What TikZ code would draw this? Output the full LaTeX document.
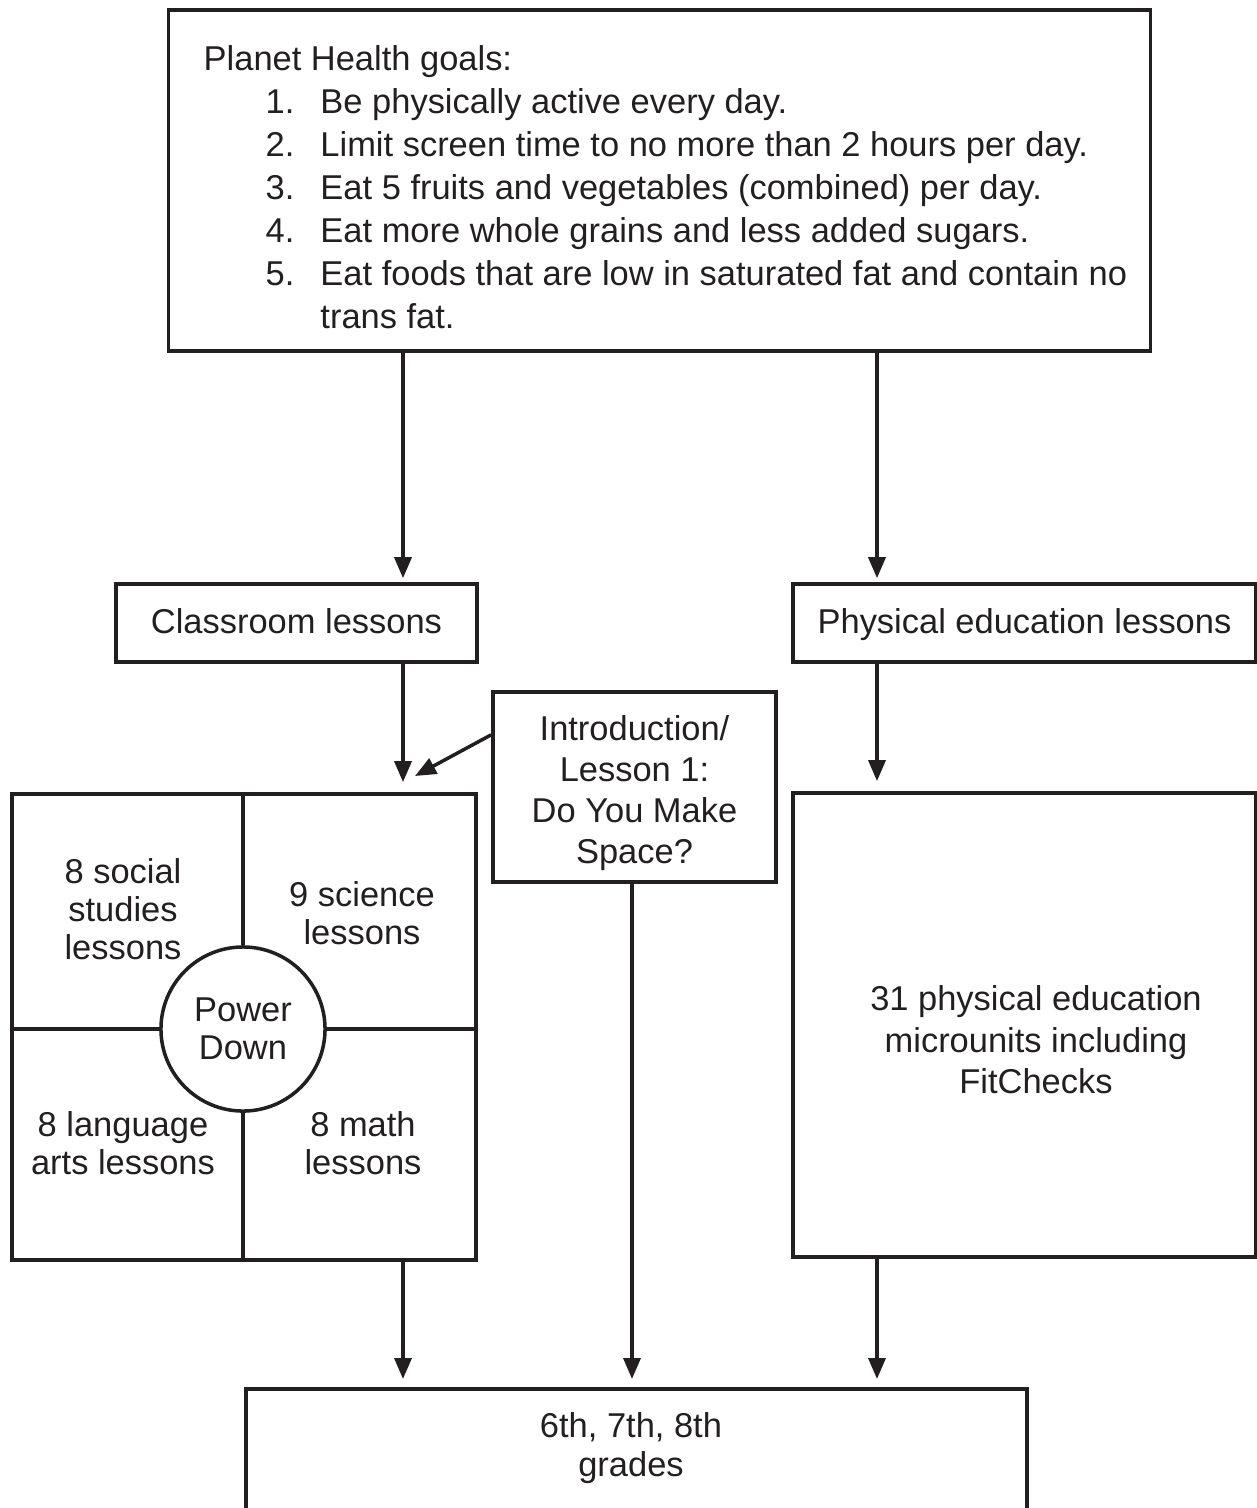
\documentclass[tikz,border=0pt]{standalone}
\usepackage{fontspec}
\setmainfont{Liberation Sans}
\usetikzlibrary{arrows.meta}

\begin{document}
\begin{tikzpicture}[x=0.01cm,y=-0.01cm, font=\fontsize{9.8}{10.9}\selectfont,
    box/.style={draw=ink, line width=1pt, inner sep=0pt},
    divider/.style={draw=ink, line width=1pt},
    arr/.style={draw=ink, line width=1pt, -{Triangle[length=0.21cm,width=0.17cm]}},
    lbl/.style={text=ink, align=center, inner sep=0pt}]
    \definecolor{ink}{RGB}{35,31,32}

    \useasboundingbox (0,0) rectangle (1257,1508);

    \node[box, minimum width=9.81cm, minimum height=3.41cm] (goals) at (659.5,180.5) {};
    \node[lbl, anchor=north west] (goalstext) at (203,40) {\fontsize{9.8}{12.2}\selectfont
        \begin{tabular}{@{\hspace{0.62cm}}r@{\hspace{0.26cm}}l@{}}
            \multicolumn{2}{@{}l@{}}{Planet Health goals:}\\
            1. & Be physically active every day.\\
            2. & Limit screen time to no more than 2 hours per day.\\
            3. & Eat 5 fruits and vegetables (combined) per day.\\
            4. & Eat more whole grains and less added sugars.\\
            5. & Eat foods that are low in saturated fat and contain no\\
               & trans fat.
        \end{tabular}};

    \node[box, lbl, draw=ink, text height=7pt, text depth=1pt, minimum width=3.61cm, minimum height=0.78cm] (classroom) at (296.5,623) {Classroom lessons};
    \node[box, lbl, draw=ink, text height=7pt, text depth=1pt, minimum width=4.63cm, minimum height=0.78cm] (pe) at (1024.5,623) {Physical education lessons};

    \node[box, minimum width=2.83cm, minimum height=1.90cm] (intro) at (634.5,787) {};
    \node[lbl, font=\fontsize{9.8}{11.6}\selectfont] (introtext) at (634.5,793) {Introduction/\\Lesson 1:\\Do You Make\\Space?};

    \node[box, minimum width=4.64cm, minimum height=4.66cm] (quad) at (244,1027) {};
    \node[box, lbl, draw=ink, circle, minimum size=1.64cm] (pd) at (243,1029) {Power\\Down};
    \draw[divider] (quad.north -| pd) -- (pd.north);
    \draw[divider] (pd.south) -- (quad.south -| pd);
    \draw[divider] (quad.west |- pd) -- (pd.west);
    \draw[divider] (pd.east) -- (quad.east |- pd);
    \node[lbl] (social) at (123,909) {8 social\\studies\\lessons};
    \node[lbl] (science) at (362,913) {9 science\\lessons};
    \node[lbl] (language) at (123,1143) {8 language\\arts lessons};
    \node[lbl] (math) at (363,1143) {8 math\\lessons};

    \node[box, minimum width=4.63cm, minimum height=4.64cm] (pebig) at (1024.5,1025) {};
    \node[lbl, font=\fontsize{9.8}{11.8}\selectfont] (petext) at (1036,1040) {31 physical education\\microunits including\\FitChecks};

    \node[box, anchor=north, minimum width=7.81cm, minimum height=1.8cm] (grades) at (636.5,1387) {};
    \node[lbl, font=\fontsize{9.8}{11.3}\selectfont] (gradestext) at (631,1448) {6th, 7th, 8th\\grades};

    \coordinate (colL) at (403,0);
    \coordinate (colM) at (632,0);
    \coordinate (colR) at (877,0);
    \coordinate (introtip) at (415,776);

    \draw[arr, shorten >=0.04cm] (goals.south -| colL) -- (classroom.north -| colL);
    \draw[arr, shorten >=0.04cm] (goals.south -| colR) -- (pe.north -| colR);
    \draw[arr, shorten >=0.1cm] (classroom.south -| colL) -- (quad.north -| colL);
    \draw[arr, shorten >=0.1cm] (pe.south -| colR) -- (pebig.north -| colR);
    \draw[arr] (intro.160) -- (introtip);
    \draw[arr, shorten >=0.08cm] (quad.south -| colL) -- (grades.north -| colL);
    \draw[arr, shorten >=0.08cm] (intro.south -| colM) -- (grades.north -| colM);
    \draw[arr, shorten >=0.08cm] (pebig.south -| colR) -- (grades.north -| colR);
\end{tikzpicture}
\end{document}
